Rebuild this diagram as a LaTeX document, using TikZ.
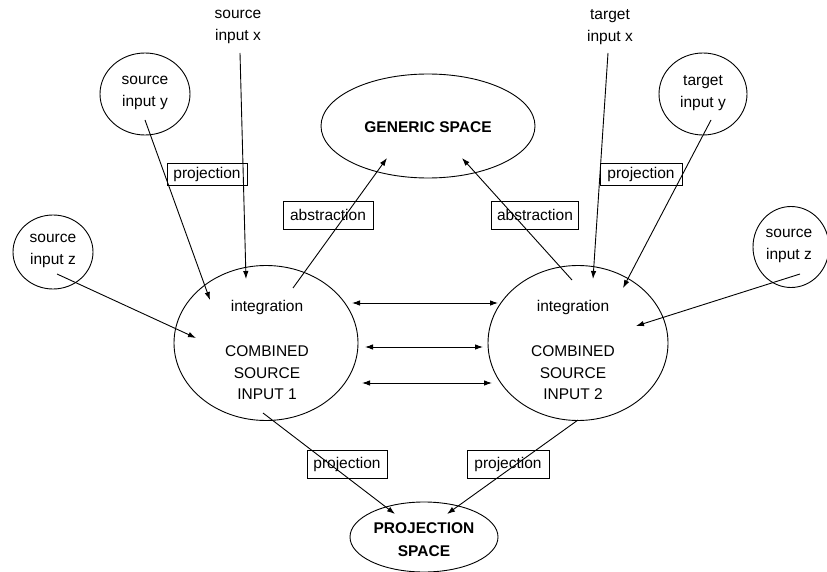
\documentclass[tikz,border=0pt]{standalone}
\usepackage{fontspec}
\setmainfont{Liberation Sans}
\usetikzlibrary{shapes.geometric,arrows.meta}
\tikzset{
  bub/.style={draw, ellipse, line width=0.9pt, inner sep=0pt},
  lbl/.style={align=center, inner sep=0pt, font=\fontsize{15.5}{21.5}\selectfont},
  blbl/.style={align=center, inner sep=0pt, font=\bfseries\fontsize{15.5}{23}\selectfont},
  tag/.style={draw, line width=0.9pt, inner sep=0pt, font=\fontsize{15.5}{17}\selectfont},
  con/.style={line width=0.9pt, -{Latex[length=8pt,width=5.5pt]}},
  dcon/.style={line width=0.9pt, {Latex[length=8pt,width=5.5pt]}-{Latex[length=8pt,width=5.5pt]}},
}
\begin{document}
\begin{tikzpicture}[x=1pt,y=-1pt]
\useasboundingbox (0,0) rectangle (827,572);
% ellipses
\node[bub, minimum width=90pt, minimum height=82pt] (sy) at (145,94) {};
\node[bub, minimum width=80pt, minimum height=74pt] (szl) at (53,252) {};
\node[bub, minimum width=214pt, minimum height=104pt] (gen) at (428,126) {};
\node[bub, minimum width=88pt, minimum height=82pt] (ty) at (703,94) {};
\node[bub, minimum width=76pt, minimum height=81pt] (szr) at (791,247) {};
\node[bub, minimum width=184pt, minimum height=155pt] (c1) at (266,343) {};
\node[bub, minimum width=180pt, minimum height=155pt] (c2) at (578,343) {};
\node[bub, minimum width=148pt, minimum height=70pt] (ps) at (424,537) {};
% texts
\node[lbl] (syt) at (145,93) {source\\input y};
\node[lbl] (sxt) at (238,27) {source\\input x};
\node[lbl] (szlt) at (53,251) {source\\input z};
\node[lbl] (txt) at (610,27) {target\\input x};
\node[lbl] (tyt) at (703,93) {target\\input y};
\node[lbl] (szrt) at (789,246) {source\\input z};
\node[blbl] (gent) at (428,127) {GENERIC SPACE};
\node[lbl] (i1) at (267,307) {integration};
\node[lbl] (cb1) at (267,373) {COMBINED\\SOURCE\\INPUT 1};
\node[lbl] (i2) at (573,307) {integration};
\node[lbl] (cb2) at (573,373) {COMBINED\\SOURCE\\INPUT 2};
\node[blbl] (pst) at (424,540) {PROJECTION\\SPACE};
% boxes
\node[tag, minimum width=80pt, minimum height=22pt] (p1) at (207,174) {projection};
\node[tag, minimum width=82pt, minimum height=22pt] (p2) at (641,174) {projection};
\node[tag, minimum width=90pt, minimum height=28pt] (a1) at (328,215) {abstraction};
\node[tag, minimum width=87pt, minimum height=28pt] (a2) at (535,215) {abstraction};
\node[tag, minimum width=80pt, minimum height=28pt] (p3) at (347,464) {projection};
\node[tag, minimum width=82pt, minimum height=28pt] (p4) at (508,464) {projection};
% connector end points
\coordinate (sxs) at (240,53);  \coordinate (sxe) at (246,279);
\coordinate (sys) at (145,120); \coordinate (sye) at (210,300);
\coordinate (szls) at (57,274); \coordinate (szle) at (196,338);
\coordinate (a1s) at (293,288); \coordinate (a1e) at (387,158);
\coordinate (a2s) at (572,280); \coordinate (a2e) at (462,158);
\coordinate (txs) at (608,53);  \coordinate (txe) at (593,279);
\coordinate (tys) at (711,120); \coordinate (tye) at (623,288);
\coordinate (szrs) at (800,274); \coordinate (szre) at (636,326);
\coordinate (p3s) at (263,413); \coordinate (p3e) at (395,514);
\coordinate (p4s) at (578,420); \coordinate (p4e) at (447,514);
\coordinate (h1a) at (352,303); \coordinate (h1b) at (498,303);
\coordinate (h2a) at (365,347); \coordinate (h2b) at (483,347);
\coordinate (h3a) at (362,383); \coordinate (h3b) at (492,383);
% connectors
\draw[con] (sxs) -- (sxe);
\draw[con] (sys) -- (sye);
\draw[con] (szls) -- (szle);
\draw[con] (a1s) -- (a1e);
\draw[con] (a2s) -- (a2e);
\draw[con] (txs) -- (txe);
\draw[con] (tys) -- (tye);
\draw[con] (szrs) -- (szre);
\draw[con] (p3s) -- (p3e);
\draw[con] (p4s) -- (p4e);
\draw[dcon] (h1a) -- (h1b);
\draw[dcon] (h2a) -- (h2b);
\draw[dcon] (h3a) -- (h3b);
\end{tikzpicture}
\end{document}
